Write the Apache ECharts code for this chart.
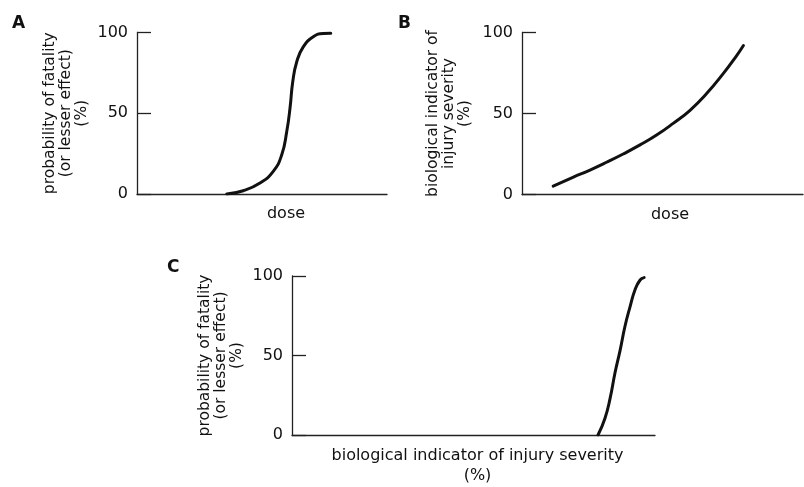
<!DOCTYPE html>
<html>
<head>
<meta charset="utf-8">
<script src="https://cdn.jsdelivr.net/npm/echarts@6/dist/echarts.min.js"></script>
<style>html,body{margin:0;padding:0;background:#fff;}#c{width:804px;height:487px;}</style>
</head>
<body>
<div id="c"></div>
<script>
// Panel A: dose vs probability of fatality
const doseA = [35.9, 42.5, 49.2, 54.5, 57.9, 59.9, 61.2, 62.3, 63.9, 66.5, 70.5, 74.5, 77.5];
const probA = [0, 2, 6.8, 14, 24.3, 38.7, 53.1, 69.5, 81.9, 91.1, 97.3, 99.4, 99.5];
// Panel B: dose vs biological indicator of injury severity
const doseB = [11.1, 18.3, 24.2, 30.1, 36.0, 42.0, 47.9, 53.8, 59.8, 65.7, 71.6, 76.4, 78.8];
const sevB = [5.2, 10.7, 15.1, 19.9, 25, 30.6, 36.7, 43.9, 52, 62.3, 74.6, 85.8, 92];
// Panel C: injury severity vs probability of fatality
const sevC = [84.3, 86.2, 87.6, 89.0, 90.4, 91.7, 93.1, 94.5, 95.9, 97.0];
const probC = [0, 10.4, 22.7, 39.3, 53.4, 68.1, 80.4, 91.4, 97.5, 99];
// Axis ticks
const yTickMin = 0, yTickMax = 100, yTickStep = 50;
const panelLabels = ['A', 'B', 'C'];
const yTitles = ['probability of fatality\n(or lesser effect)\n(%)', 'biological indicator of\ninjury severity\n(%)', 'probability of fatality\n(or lesser effect)\n(%)'];
const xTitles = ['dose', 'dose', 'biological indicator of injury severity\n(%)'];

const FONT = 'DejaVu Sans';
const INK = '#111';
const axisLineStyle = {color: '#222', width: 1.3};

const grids = [
  {left: 137, top: 32.5, width: 250, height: 161.5},
  {left: 522, top: 32.5, width: 281, height: 162},
  {left: 292, top: 276, width: 363, height: 163}
];
const yGaps = [47, 49, 47];
const xPads = [[0, 0, 0, 48], [0, 0, 0, 15], [0, 0, 0, 8]];
const xGaps = [10, 10, 11];

function zip(xs, ys) { return xs.map((x, i) => [x, ys[i]]); }

const chart = echarts.init(document.getElementById('c'), null, {renderer: 'canvas'});
chart.setOption({
  animation: false,
  backgroundColor: '#fff',
  title: [
    {text: panelLabels[0], left: 12, top: 15, padding: 0, textStyle: {fontFamily: FONT, fontWeight: 'bold', fontSize: 17, color: INK}},
    {text: panelLabels[1], left: 398, top: 15, padding: 0, textStyle: {fontFamily: FONT, fontWeight: 'bold', fontSize: 17, color: INK}},
    {text: panelLabels[2], left: 167, top: 259, padding: 0, textStyle: {fontFamily: FONT, fontWeight: 'bold', fontSize: 17, color: INK}}
  ],
  grid: grids,
  xAxis: grids.map((g, i) => ({
    gridIndex: i, type: 'value', min: 0, max: 100,
    axisLine: {show: true, onZero: false, lineStyle: axisLineStyle},
    axisTick: {show: false}, axisLabel: {show: false}, splitLine: {show: false},
    name: xTitles[i], nameLocation: 'middle', nameGap: xGaps[i],
    nameTextStyle: {fontFamily: FONT, fontSize: 16, color: INK, lineHeight: 20, verticalAlign: 'top', padding: xPads[i]}
  })),
  yAxis: grids.map((g, i) => ({
    gridIndex: i, type: 'value', min: yTickMin, max: yTickMax, interval: yTickStep,
    axisLine: {show: true, onZero: false, lineStyle: axisLineStyle},
    axisTick: {show: true, inside: true, length: 14, lineStyle: axisLineStyle},
    axisLabel: {margin: 9, fontFamily: FONT, fontSize: 16, color: INK},
    splitLine: {show: false},
    name: yTitles[i], nameLocation: 'middle', nameRotate: 90, nameGap: yGaps[i],
    nameTextStyle: {fontFamily: FONT, fontSize: 15.5, color: INK, lineHeight: 16}
  })),
  series: [
    {type: 'line', xAxisIndex: 0, yAxisIndex: 0, data: zip(doseA, probA)},
    {type: 'line', xAxisIndex: 1, yAxisIndex: 1, data: zip(doseB, sevB)},
    {type: 'line', xAxisIndex: 2, yAxisIndex: 2, data: zip(sevC, probC)}
  ].map(s => Object.assign(s, {smooth: 0.5, showSymbol: false, symbol: 'none', lineStyle: {color: '#111', width: 3, cap: 'round'}}))
});
</script>
</body>
</html>
